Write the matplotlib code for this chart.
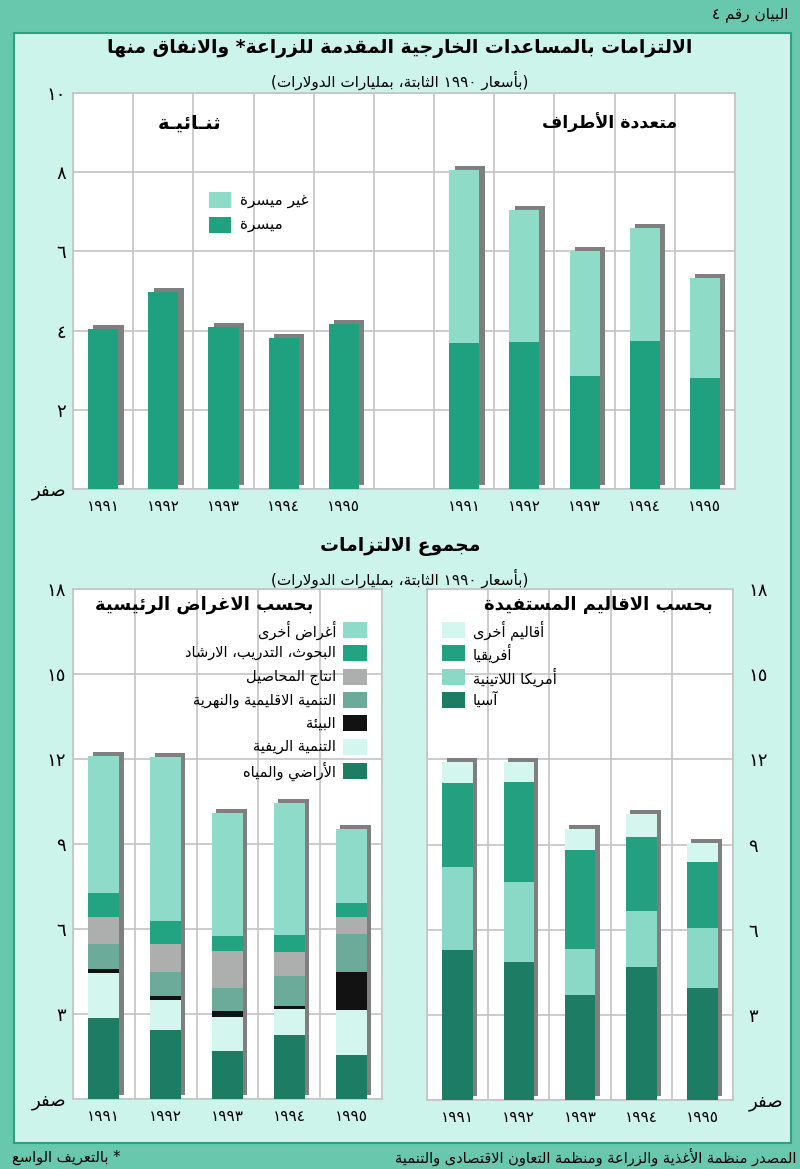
import re
import numpy as np
import matplotlib
matplotlib.use("Agg")
import matplotlib.pyplot as plt
from matplotlib.patches import Rectangle

# ---- data (billions of 1990 dollars) ----
years = ['١٩٩١', '١٩٩٢', '١٩٩٣', '١٩٩٤', '١٩٩٥']

bilateral_conc = [4.03, 4.97, 4.08, 3.82, 4.17]
bilateral_nonconc = [0, 0, 0, 0, 0]
multilateral_conc = [3.69, 3.72, 2.85, 3.75, 2.81]
multilateral_nonconc = [4.37, 3.33, 3.16, 2.85, 2.53]

# by main purpose (stack from bottom)
purpose_names = ['الأراضي والمياه', 'التنمية الريفية', 'البيئة',
                 'التنمية الاقليمية والنهرية', 'انتاج المحاصيل',
                 'البحوث، التدريب، الارشاد', 'أغراض أخرى']
land_water = [2.85, 2.44, 1.71, 2.27, 1.57]
rural_dev = [1.59, 1.05, 1.17, 0.91, 1.57]
environment = [0.15, 0.15, 0.24, 0.11, 1.34]
regional_river = [0.88, 0.85, 0.81, 1.05, 1.34]
crop_prod = [0.94, 0.97, 1.29, 0.86, 0.59]
research = [0.85, 0.83, 0.53, 0.58, 0.52]
other_purposes = [4.84, 5.77, 4.36, 4.66, 2.59]

# by recipient region (stack from bottom)
region_names = ['آسيا', 'أمريكا اللاتينية', 'أفريقيا', 'أقاليم أخرى']
asia = [5.29, 4.86, 3.71, 4.68, 3.96]
latin_america = [2.92, 2.81, 1.62, 1.96, 2.10]
africa = [2.94, 3.53, 3.46, 2.63, 2.32]
other_regions = [0.77, 0.70, 0.76, 0.79, 0.68]

# ---- minimal arabic shaping (presentation forms + visual order) ----
RIGHT = {'آ': 0xFE81, 'أ': 0xFE83, 'ؤ': 0xFE85, 'إ': 0xFE87, 'ا': 0xFE8D,
         'ة': 0xFE93, 'د': 0xFEA9, 'ذ': 0xFEAB, 'ر': 0xFEAD, 'ز': 0xFEAF,
         'و': 0xFEED, 'ى': 0xFEEF}
DUAL = {'ئ': 0xFE89, 'ب': 0xFE8F, 'ت': 0xFE95, 'ث': 0xFE99, 'ج': 0xFE9D,
        'ح': 0xFEA1, 'خ': 0xFEA5, 'س': 0xFEB1, 'ش': 0xFEB5, 'ص': 0xFEB9,
        'ض': 0xFEBD, 'ط': 0xFEC1, 'ظ': 0xFEC5, 'ع': 0xFEC9, 'غ': 0xFECD,
        'ف': 0xFED1, 'ق': 0xFED5, 'ك': 0xFED9, 'ل': 0xFEDD, 'م': 0xFEE1,
        'ن': 0xFEE5, 'ه': 0xFEE9, 'ي': 0xFEF1}
LAMALEF = {'آ': 0xFEF5, 'أ': 0xFEF7, 'إ': 0xFEF9, 'ا': 0xFEFB}


def shape(s):
    items = []
    i = 0
    while i < len(s):
        if s[i] == 'ل' and i + 1 < len(s) and s[i + 1] in LAMALEF:
            items.append(('LA', s[i + 1]))
            i += 2
        else:
            items.append(('C', s[i]))
            i += 1

    def jt(it):
        if it[0] == 'LA':
            return 'R'
        c = it[1]
        if c in DUAL or c == 'ـ':
            return 'D'
        if c in RIGHT:
            return 'R'
        return None

    out = []
    for k, it in enumerate(items):
        t = jt(it)
        pt = jt(items[k - 1]) if k > 0 else None
        nt = jt(items[k + 1]) if k + 1 < len(items) else None
        lp = t is not None and pt == 'D'
        ln = t == 'D' and nt in ('D', 'R')
        kind, c = it
        if kind == 'LA':
            out.append(chr(LAMALEF[c] + (1 if lp else 0)))
        elif c in DUAL:
            b = DUAL[c]
            if lp and ln:
                out.append(chr(b + 3))
            elif lp:
                out.append(chr(b + 1))
            elif ln:
                out.append(chr(b + 2))
            else:
                out.append(chr(b))
        elif c in RIGHT:
            out.append(chr(RIGHT[c] + (1 if lp else 0)))
        elif c == 'ء':
            out.append(chr(0xFE80))
        else:
            out.append(c)
    return ''.join(out)


def ar(s):
    toks = re.findall(r'[0-9\u0660-\u0669]+|.', shape(s))[::-1]
    mirror = {'(': ')', ')': '('}
    return ''.join(mirror.get(t, t) for t in toks)


# ---- colours ----
OUTER = '#68c8ad'
INNER = '#cdf4ea'
GRID = '#c4c4c4'
SHADOW = '#7f7f7f'
c_conc = '#1fa07f'
c_nonconc = '#8edcc8'
purpose_colors = ['#1d7c64', '#d3f6ee', '#121212', '#6caa9a',
                  '#acafae', '#22a381', '#8ddbc8']
region_colors = ['#1d7c64', '#8ad8c6', '#22a080', '#d3f6ee']

W, H = 800, 1169
fig = plt.figure(figsize=(W / 100, H / 100), dpi=100, facecolor=OUTER)


def P(x, y):
    return x / W, 1 - y / H


fig.patches.append(Rectangle(P(14, 1143), 777 / W, 1110 / H,
                             transform=fig.transFigure, facecolor=INNER,
                             edgecolor='#2f9f80', lw=1.5, zorder=-1))


def make_ax(x0, y0, x1, y1):
    ax = fig.add_axes([x0 / W, 1 - y1 / H, (x1 - x0) / W, (y1 - y0) / H])
    ax.set_facecolor('white')
    for sp in ax.spines.values():
        sp.set_color(GRID)
        sp.set_linewidth(1.2)
    ax.set_axisbelow(True)
    ax.grid(True, which='major', axis='y', color=GRID, lw=1.2)
    ax.grid(True, which='minor', axis='x', color=GRID, lw=1.2)
    ax.tick_params(which='both', length=0)
    return ax


def shadow_bars(ax, xs, totals, width, dx, dy):
    ax.bar(np.array(xs) + dx, totals, width, bottom=dy, color=SHADOW,
           zorder=2, linewidth=0)


# ---- top chart ----
ax = make_ax(73, 93, 735, 489)
ax.set_xlim(0, 11)
ax.set_ylim(0, 10)
ax.set_xticks(np.arange(0, 12), minor=True)
xb = np.arange(5) + 0.5
xm = np.arange(5) + 6.5
bw = 0.5
tb = np.array(bilateral_conc) + np.array(bilateral_nonconc)
tm = np.array(multilateral_conc) + np.array(multilateral_nonconc)
shadow_bars(ax, xb, tb, bw, 0.09, 0.1)
shadow_bars(ax, xm, tm, bw, 0.09, 0.1)
ax.bar(xb, bilateral_conc, bw, color=c_conc, zorder=3, linewidth=0)
ax.bar(xb, bilateral_nonconc, bw, bottom=bilateral_conc, color=c_nonconc,
       zorder=3, linewidth=0)
ax.bar(xm, multilateral_conc, bw, color=c_conc, zorder=3, linewidth=0)
ax.bar(xm, multilateral_nonconc, bw, bottom=multilateral_conc,
       color=c_nonconc, zorder=3, linewidth=0)
ax.set_xticks(list(xb) + list(xm))
ax.set_xticklabels(years * 2, fontsize=11)
ax.set_yticks([0, 2, 4, 6, 8, 10])
ax.set_yticklabels([ar('صفر'), '٢', '٤', '٦', '٨', '١٠'], fontsize=13)
ax.tick_params(axis='x', pad=7)
ax.tick_params(axis='y', pad=5)

fig.text(*P(190, 123), ar('ثنـائيـة'), fontsize=14, fontweight='bold',
         ha='center', va='center')
fig.text(*P(677, 123), ar('متعددة الأطراف'), fontsize=12.5, fontweight='bold',
         ha='right', va='center')
for yy, col, lab in [(200, c_nonconc, 'غير ميسرة'), (225, c_conc, 'ميسرة')]:
    fig.patches.append(Rectangle(P(209, yy + 8), 22 / W, 16 / H,
                                 transform=fig.transFigure, facecolor=col,
                                 zorder=5))
    fig.text(*P(240, yy), ar(lab), fontsize=11, ha='left', va='center')

# ---- bottom left: by purpose ----
ax2 = make_ax(73, 589, 382, 1099)
ax2.set_xlim(0, 5)
ax2.set_ylim(0, 18)
ax2.set_xticks(np.arange(0, 6), minor=True)
x5 = np.arange(5) + 0.5
purposes = [land_water, rural_dev, environment, regional_river, crop_prod,
            research, other_purposes]
tot_p = np.sum(purposes, axis=0)
shadow_bars(ax2, x5, tot_p, bw, 0.07, 0.14)
bottom = np.zeros(5)
for vals, col in zip(purposes, purpose_colors):
    ax2.bar(x5, vals, bw, bottom=bottom, color=col, zorder=3, linewidth=0)
    bottom += np.array(vals)
ax2.set_xticks(x5)
ax2.set_xticklabels(years, fontsize=11)
ax2.set_yticks([0, 3, 6, 9, 12, 15, 18])
ax2.set_yticklabels([ar('صفر'), '٣', '٦', '٩', '١٢', '١٥', '١٨'], fontsize=13)
ax2.tick_params(axis='x', pad=7)
ax2.tick_params(axis='y', pad=5)

fig.text(*P(313, 605), ar('بحسب الاغراض الرئيسية'), fontsize=13,
         fontweight='bold', ha='right', va='center')
leg_y = [630, 653, 677, 700, 723, 747, 771]
for yy, col, lab in zip(leg_y, purpose_colors[::-1], purpose_names[::-1]):
    fig.patches.append(Rectangle(P(343, yy + 8), 24 / W, 16 / H,
                                 transform=fig.transFigure, facecolor=col,
                                 zorder=5))
    fig.text(*P(336, yy), ar(lab), fontsize=10.5, ha='right', va='center')

# ---- bottom right: by region ----
ax3 = make_ax(427, 589, 733, 1100)
ax3.set_xlim(0, 5)
ax3.set_ylim(0, 18)
ax3.set_xticks(np.arange(0, 6), minor=True)
regions = [asia, latin_america, africa, other_regions]
tot_r = np.sum(regions, axis=0)
shadow_bars(ax3, x5, tot_r, bw, 0.07, 0.14)
bottom = np.zeros(5)
for vals, col in zip(regions, region_colors):
    ax3.bar(x5, vals, bw, bottom=bottom, color=col, zorder=3, linewidth=0)
    bottom += np.array(vals)
ax3.set_xticks(x5)
ax3.set_xticklabels(years, fontsize=11)
ax3.yaxis.tick_right()
ax3.set_yticks([0, 3, 6, 9, 12, 15, 18])
ax3.set_yticklabels([ar('صفر'), '٣', '٦', '٩', '١٢', '١٥', '١٨'], fontsize=13)
ax3.tick_params(axis='x', pad=7)
ax3.tick_params(axis='y', pad=11)

fig.text(*P(713, 605), ar('بحسب الاقاليم المستفيدة'), fontsize=13,
         fontweight='bold', ha='right', va='center')
leg_y = [630, 653, 677, 700]
for yy, col, lab in zip(leg_y, region_colors[::-1], region_names[::-1]):
    fig.patches.append(Rectangle(P(442, yy + 8), 23 / W, 16 / H,
                                 transform=fig.transFigure, facecolor=col,
                                 zorder=5))
    fig.text(*P(473, yy), ar(lab), fontsize=10.5, ha='left', va='center')

# ---- titles and notes ----
fig.text(*P(788, 15), ar('البيان رقم ٤'), fontsize=11,
         ha='right', va='center')
fig.text(*P(400, 48), ar('الالتزامات بالمساعدات الخارجية المقدمة للزراعة* والانفاق منها'),
         fontsize=13.5, fontweight='bold', ha='center', va='center')
fig.text(*P(400, 80), ar('(بأسعار ١٩٩٠ الثابتة، بمليارات الدولارات)'),
         fontsize=11, ha='center', va='center')
fig.text(*P(400, 546), ar('مجموع الالتزامات'), fontsize=13.5,
         fontweight='bold', ha='center', va='center')
fig.text(*P(400, 578), ar('(بأسعار ١٩٩٠ الثابتة، بمليارات الدولارات)'),
         fontsize=11, ha='center', va='center')
fig.text(*P(796, 1157), ar('المصدر منظمة الأغذية والزراعة ومنظمة التعاون الاقتصادى والتنمية'),
         fontsize=10.5, ha='right', va='center')
fig.text(*P(12, 1157), ar('* بالتعريف الواسع'), fontsize=10.5,
         ha='left', va='center')

fig.savefig('out.png', dpi=100, facecolor=OUTER)
